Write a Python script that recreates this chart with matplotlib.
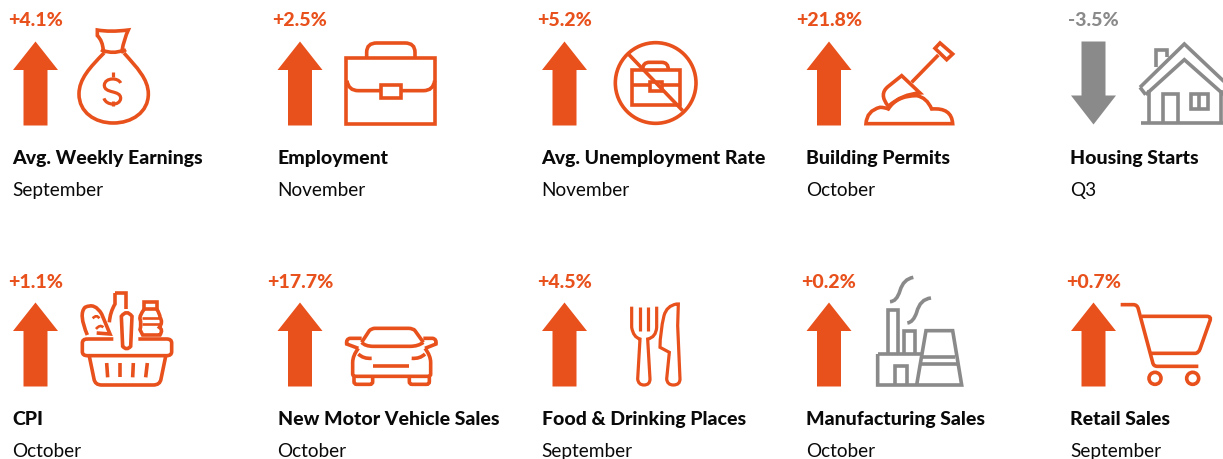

#Modules Used
import re
import matplotlib
matplotlib.use('Agg')
import matplotlib.pyplot as plt
from matplotlib.path import Path
from matplotlib.patches import PathPatch, Polygon, Circle, Rectangle

plt.rcParams['font.family'] = ['Lato', 'Noto Sans', 'DejaVu Sans']

#Chart content, one list per thing, row by row
names = ['Avg. Weekly Earnings', 'Employment', 'Avg. Unemployment Rate', 'Building Permits', 'Housing Starts',
         'CPI', 'New Motor Vehicle Sales', 'Food & Drinking Places', 'Manufacturing Sales', 'Retail Sales']
periods = ['September', 'November', 'November', 'October', 'Q3',
           'October', 'October', 'September', 'October', 'September']
changes = [4.1, 2.5, 5.2, 21.8, -3.5,
           1.1, 17.7, 4.5, 0.2, 0.7]

ORANGE = '#E8501C'
GREY = '#8A8A8A'
INK = '#0A0A0A'

arrow_x = [35.5, 300, 564.5, 829, 1093.5] #arrow centre of each column
text_x = [12.5, 277.5, 541.5, 806.5, 1070.5]
row_top = [42.5, 303.5] #arrow tip for up arrows
value_y = [26.5, 288.5] #baseline of the percent labels

fig = plt.figure(figsize=(12.23, 4.6), dpi=100)
ax = fig.add_axes([0, 0, 1, 1])
ax.set_xlim(0, 1223)
ax.set_ylim(460, 0)
ax.axis('off')

LW = 2.6


def stroke(d, ox, oy, color=ORANGE, lw=LW):
    verts, codes = [], []
    tok = re.findall(r'[MLQCZ]|[\d.]+', d)
    i = 0
    sizes = {'M': (1, Path.MOVETO), 'L': (1, Path.LINETO), 'Q': (2, Path.CURVE3), 'C': (3, Path.CURVE4)}
    while i < len(tok):
        c = tok[i]
        i += 1
        if c == 'Z':
            verts.append(verts[-1])
            codes.append(Path.CLOSEPOLY)
            continue
        n, code = sizes[c]
        for k in range(n):
            verts.append((ox + float(tok[i]) / 3, oy + float(tok[i + 1]) / 3))
            codes.append(code)
            i += 2
    ax.add_patch(PathPatch(Path(verts, codes), fill=False, ec=color, lw=lw, capstyle='butt', joinstyle='miter'))


def ring(x, y, r, ox, oy, color=ORANGE, lw=LW):
    ax.add_patch(Circle((ox + x / 3, oy + y / 3), r / 3, fill=False, ec=color, lw=lw))


def box(x0, y0, x1, y1, ox, oy, color=ORANGE, lw=LW):
    ax.add_patch(Rectangle((ox + x0 / 3, oy + y0 / 3), (x1 - x0) / 3, (y1 - y0) / 3, fill=False, ec=color, lw=lw))


def moneyBag():
    o = (0, 0)
    stroke('M292 93 Q330 100 385 93 Q372 120 366 155 Q340 165 310 155 Q308 125 292 110 Z', *o)
    stroke('M312 162 C270 205 237 240 237 285 C237 340 285 372 340 372 C395 372 445 340 445 285 C445 240 410 205 372 162', *o)
    stroke('M303 152 L318 160', *o)
    stroke('M378 152 L363 160', *o)
    stroke('M362 252 C355 235 315 235 313 258 C312 285 362 272 362 298 C360 322 318 320 312 298', *o, lw=2.3)
    stroke('M338 220 L338 235', *o, lw=2.3)
    stroke('M338 305 L338 320', *o, lw=2.3)


def briefcase():
    o = (0, 0)
    box(1039, 177, 1306, 374, *o)
    stroke('M1100 177 L1100 160 Q1100 132 1130 132 L1215 132 Q1245 132 1245 160 L1245 177', *o)
    stroke('M1041 245 Q1045 275 1075 275 L1143 275', *o)
    stroke('M1203 275 L1270 275 Q1300 275 1304 245', *o)
    box(1143, 257, 1203, 296, *o)


def noJobs():
    o = (530, 0)
    ring(377, 252, 121, *o)
    stroke('M295 165 L458 335', *o)
    box(305, 212, 450, 318, *o)
    stroke('M338 212 Q338 190 358 190 L395 190 Q415 190 415 212', *o)
    stroke('M305 258 L360 258', *o)
    stroke('M395 258 L450 258', *o)
    box(360, 250, 395, 275, *o)


def shovel():
    o = (530, 0)
    stroke('M1230 132 L1268 165 L1250 182 L1215 148 Z', *o)
    stroke('M1225 168 L1145 250', *o)
    stroke('M1115 230 L1170 282 Q1115 285 1075 322 Q1045 285 1075 262 Z', *o)
    stroke('M1008 374 Q1010 335 1050 325 Q1065 325 1075 330 Q1100 290 1160 290 Q1190 295 1205 330 Q1265 325 1268 374 Z', *o)


def house():
    o = (1050, 0)
    c = dict(color=GREY)
    stroke('M270 265 L403 135 L530 255', *o, **c)
    stroke('M287 287 L403 182 L525 290', *o, **c)
    stroke('M270 265 L287 287', *o, **c)
    stroke('M318 205 L318 152 L352 152 L352 175', *o, **c)
    stroke('M297 272 L297 372', *o, **c)
    stroke('M512 272 L512 372', *o, **c)
    stroke('M274 372 L525 372', *o, **c)
    stroke('M340 372 L340 285 L385 285 L385 372', *o, **c)
    box(422, 285, 475, 330, *o, **c)
    stroke('M448 285 L448 330', *o, **c)


def basket():
    o = (0, 260)
    stroke('M262 240 L340 240 M415 240 L500 240 Q515 240 515 252 L515 278 Q515 290 500 290 L262 290 Q247 290 247 278 L247 252 Q247 240 262 240', *o)
    stroke('M268 292 L282 360 Q285 378 305 378 L460 378 Q480 378 483 360 L497 292', *o)
    stroke('M320 312 L323 355', *o)
    stroke('M360 312 L360 355', *o)
    stroke('M400 312 L398 355', *o)
    stroke('M442 312 L437 355', *o)
    stroke('M364 172 Q380 150 396 172 L392 262 Q380 276 368 262 Z', *o)
    stroke('M262 228 Q235 165 255 145 Q285 130 305 165 L330 225 L290 222', *o)
    stroke('M278 178 Q290 165 298 178', *o, lw=1.9)
    stroke('M288 210 Q300 195 310 205', *o, lw=1.9)
    stroke('M345 102 L378 102 L378 150', *o)
    stroke('M345 102 L345 135 Q330 160 328 190', *o)
    box(433, 130, 470, 150, *o)
    stroke('M433 150 Q418 170 420 180 Q425 195 420 212 L428 228 L480 228 Q490 212 478 205 Q490 190 480 175 Q480 165 470 150', *o)
    stroke('M425 178 L480 178', *o, lw=1.9)
    stroke('M425 195 L480 195', *o, lw=1.9)


def car():
    o = (0, 260)
    stroke('M1085 250 L1108 215 Q1115 208 1125 208 L1225 208 Q1240 208 1245 215 L1270 250', *o)
    stroke('M1085 250 Q1095 262 1120 262 L1230 262 Q1255 262 1270 250', *o)
    stroke('M1085 238 L1050 238 Q1038 240 1040 255 L1075 268', *o)
    stroke('M1270 238 L1298 238 Q1310 240 1308 255 L1275 268', *o)
    stroke('M1075 268 Q1058 290 1058 310 L1058 345 Q1058 352 1068 352 L1285 352 Q1292 352 1292 345 L1292 310 Q1292 290 1275 268', *o)
    stroke('M1062 352 L1062 368 Q1062 376 1070 376 L1110 376 Q1118 376 1118 368 L1118 352', *o)
    stroke('M1228 352 L1228 368 Q1228 376 1236 376 L1280 376 Q1288 376 1288 368 L1288 352', *o)
    stroke('M1075 285 Q1090 300 1115 298', *o)
    stroke('M1275 285 Q1260 300 1235 298', *o)
    stroke('M1118 322 L1228 322', *o)


def cutlery():
    o = (530, 260)
    stroke('M305 143 L305 205 Q310 235 330 240 L323 360 Q325 378 342 378 Q360 378 360 360 L353 240 Q378 235 380 205 L380 143', *o, lw=2.3)
    stroke('M330 143 L330 215', *o, lw=2.3)
    stroke('M355 143 L355 215', *o, lw=2.3)
    stroke('M440 135 Q410 140 402 170 Q390 220 390 265 L418 280 L410 360 Q412 378 430 378 Q450 378 450 360 L443 200 L445 135 Z', *o, lw=2.3)


def factory():
    o = (530, 260)
    c = dict(color=GREY)
    stroke('M1043 285 L1043 378 L1295 378 L1268 215 L1188 215 L1160 378', *o, **c)
    stroke('M1043 285 L1175 285', *o, **c)
    stroke('M1075 285 L1075 152 L1103 152 L1103 285', *o, **c)
    stroke('M1122 285 L1122 215 L1155 215 L1155 285', *o, **c)
    stroke('M1095 378 L1095 320 L1132 320 L1132 378', *o, **c)
    stroke('M1172 295 L1275 295', *o, **c)
    stroke('M1170 315 L1280 315', *o, **c)
    stroke('M1080 128 Q1100 128 1110 95 Q1120 60 1150 55', *o, **c)
    stroke('M1132 192 Q1150 190 1160 160 Q1170 120 1203 117', *o, **c)


def cart():
    o = (1050, 260)
    stroke('M212 137 L250 137 Q262 137 265 150 L308 310 Q310 322 322 322 L445 322', *o)
    stroke('M275 172 L470 172 Q485 172 480 185 L450 270 Q445 283 435 283 L298 283', *o)
    ring(315, 358, 18, *o)
    ring(428, 358, 18, *o)


icons = [moneyBag, briefcase, noJobs, shovel, house, basket, car, cutlery, factory, cart]

#Draw every tile, arrow direction and colour come from the sign of the change
for i in range(len(names)):
    col = i % 5
    row = i // 5
    cx = arrow_x[col]
    top = row_top[row]
    if changes[i] >= 0:
        colour = ORANGE
        shape = [(cx, top), (cx + 22.5, top + 28.5), (cx + 12, top + 28.5), (cx + 12, top + 84),
                 (cx - 12, top + 84), (cx - 12, top + 28.5), (cx - 22.5, top + 28.5)]
    else:
        colour = GREY
        shape = [(cx - 12, top), (cx + 12, top), (cx + 12, top + 54), (cx + 22.5, top + 54),
                 (cx, top + 83), (cx - 22.5, top + 54), (cx - 12, top + 54)]
    ax.add_patch(Polygon(shape, closed=True, fc=colour, ec='none'))

    ax.text(cx, value_y[row], f'{changes[i]:+.1f}%', color=colour, fontsize=14, fontweight=900, ha='center', va='baseline')
    ax.text(text_x[col], top + 121.5, names[i], color=INK, fontsize=14, fontweight=900, ha='left', va='baseline')
    ax.text(text_x[col], top + 153.5, periods[i], color=INK, fontsize=13.7, ha='left', va='baseline')
    icons[i]()

fig.savefig('out.png', dpi=100)
